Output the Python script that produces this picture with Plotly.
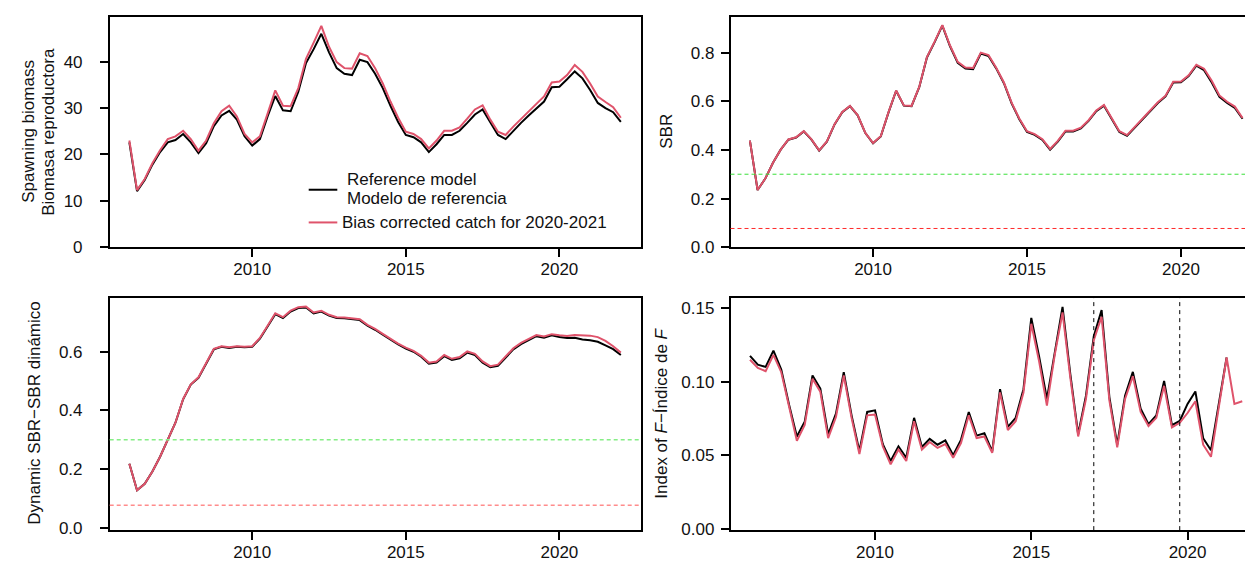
import numpy as np
import plotly.graph_objects as go

# ------------------------- Datos (trimestrales) ---------------------------------
anios = np.arange(2006.0, 2022.01, 0.25)          # 2006.00 ... 2022.00 (65)
anios_f = anios[:-1]                               # 2006.00 ... 2021.75 (64)

# Biomasa reproductora
bio_ref = [22.6, 12.1, 14.5, 17.8, 20.5, 22.6, 23.1, 24.4, 22.6, 20.3,
           22.4, 26.1, 28.4, 29.4, 27.5, 23.9, 21.9, 23.3, 28.2, 32.6,
           29.5, 29.3, 33.5, 39.7, 42.7, 46.0, 42.0, 38.6, 37.4, 37.1,
           40.4, 39.9, 37.4, 34.3, 30.5, 27.0, 24.2, 23.7, 22.6, 20.5,
           22.2, 24.2, 24.2, 25.1, 26.8, 28.6, 29.7, 26.8, 24.2, 23.3,
           25.1, 26.8, 28.4, 30.0, 31.4, 34.5, 34.6, 36.2, 37.9, 36.4,
           33.9, 31.1, 30.0, 29.1, 27.0]
bio_bias = [23.0, 12.3, 14.7, 18.1, 20.9, 23.3, 23.9, 25.1, 23.3, 20.8,
            23.0, 26.7, 29.3, 30.5, 28.2, 24.4, 22.6, 23.9, 28.8, 33.8,
            30.5, 30.4, 34.3, 40.6, 44.1, 47.7, 43.2, 39.9, 38.6, 38.5,
            41.8, 41.2, 38.6, 35.3, 31.4, 27.9, 24.9, 24.4, 23.3, 21.3,
            23.0, 25.1, 25.1, 25.8, 27.7, 29.7, 30.6, 27.5, 24.9, 24.2,
            26.0, 27.7, 29.3, 30.9, 32.5, 35.5, 35.7, 37.1, 39.3, 37.8,
            35.3, 32.5, 31.3, 30.2, 27.9]

# SBR
sbr_ref = [0.438, 0.235, 0.282, 0.347, 0.401, 0.442, 0.451, 0.476, 0.442, 0.397,
           0.434, 0.505, 0.555, 0.580, 0.542, 0.469, 0.427, 0.455, 0.553, 0.643,
           0.582, 0.580, 0.658, 0.780, 0.843, 0.911, 0.826, 0.758, 0.735, 0.732,
           0.796, 0.786, 0.735, 0.674, 0.591, 0.526, 0.474, 0.462, 0.441, 0.401,
           0.434, 0.476, 0.476, 0.488, 0.519, 0.559, 0.582, 0.528, 0.474, 0.458,
           0.492, 0.528, 0.562, 0.593, 0.620, 0.677, 0.678, 0.704, 0.746, 0.728,
           0.677, 0.618, 0.593, 0.573, 0.528]
sbr_bias = [0.438, 0.235, 0.282, 0.347, 0.401, 0.443, 0.452, 0.477, 0.443, 0.398,
            0.435, 0.506, 0.556, 0.581, 0.543, 0.470, 0.428, 0.456, 0.554, 0.644,
            0.583, 0.581, 0.659, 0.782, 0.845, 0.913, 0.829, 0.762, 0.739, 0.737,
            0.800, 0.790, 0.738, 0.677, 0.594, 0.529, 0.477, 0.465, 0.444, 0.404,
            0.437, 0.479, 0.479, 0.491, 0.522, 0.562, 0.585, 0.531, 0.477, 0.461,
            0.495, 0.531, 0.565, 0.596, 0.623, 0.680, 0.681, 0.707, 0.750, 0.734,
            0.684, 0.624, 0.598, 0.578, 0.531]

# SBR dinámico
dsbr_ref = [0.218, 0.128, 0.150, 0.192, 0.242, 0.298, 0.358, 0.438, 0.488, 0.511,
            0.561, 0.608, 0.617, 0.613, 0.617, 0.615, 0.617, 0.645, 0.686, 0.728,
            0.715, 0.737, 0.749, 0.751, 0.731, 0.737, 0.723, 0.715, 0.714, 0.711,
            0.708, 0.689, 0.675, 0.658, 0.641, 0.625, 0.611, 0.600, 0.583, 0.559,
            0.563, 0.585, 0.572, 0.578, 0.597, 0.589, 0.563, 0.547, 0.552, 0.581,
            0.608, 0.626, 0.639, 0.653, 0.648, 0.656, 0.650, 0.647, 0.648, 0.642,
            0.639, 0.634, 0.622, 0.609, 0.589]
dsbr_bias = [0.218, 0.128, 0.150, 0.192, 0.242, 0.298, 0.358, 0.439, 0.489, 0.513,
             0.563, 0.610, 0.619, 0.615, 0.619, 0.617, 0.619, 0.647, 0.689, 0.731,
             0.718, 0.740, 0.752, 0.754, 0.734, 0.740, 0.726, 0.718, 0.717, 0.714,
             0.711, 0.692, 0.678, 0.661, 0.644, 0.628, 0.614, 0.603, 0.586, 0.563,
             0.567, 0.589, 0.576, 0.582, 0.601, 0.593, 0.567, 0.551, 0.556, 0.585,
             0.612, 0.630, 0.643, 0.657, 0.652, 0.660, 0.656, 0.654, 0.657, 0.656,
             0.655, 0.650, 0.637, 0.619, 0.597]

# Indice de F
f_ref = [0.1177, 0.1117, 0.1102, 0.1213, 0.1084, 0.0844, 0.0628, 0.0728, 0.1044, 0.0955,
         0.0643, 0.0783, 0.1066, 0.0772, 0.0527, 0.0795, 0.0806, 0.0576, 0.0461, 0.0561,
         0.0483, 0.0755, 0.0556, 0.0612, 0.0572, 0.0601, 0.0501, 0.0605, 0.0795, 0.0634,
         0.0650, 0.0527, 0.0950, 0.0694, 0.0755, 0.0950, 0.1436, 0.1173, 0.0884, 0.1206,
         0.1511, 0.1051, 0.0643, 0.0906, 0.1311, 0.1489, 0.0895, 0.0572, 0.0906, 0.1068,
         0.0817, 0.0712, 0.0772, 0.1006, 0.0705, 0.0734, 0.0850, 0.0935, 0.0616, 0.0534,
         0.0860, 0.1166]
f_bias = [0.1151, 0.1095, 0.1073, 0.1184, 0.1066, 0.0828, 0.0599, 0.0706, 0.1022, 0.0933,
          0.0617, 0.0761, 0.1044, 0.0755, 0.0509, 0.0772, 0.0777, 0.0561, 0.0438, 0.0539,
          0.0461, 0.0732, 0.0539, 0.0590, 0.0550, 0.0576, 0.0483, 0.0583, 0.0772, 0.0617,
          0.0628, 0.0516, 0.0928, 0.0672, 0.0732, 0.0928, 0.1396, 0.1140, 0.0839, 0.1184,
          0.1473, 0.1028, 0.0628, 0.0884, 0.1284, 0.1444, 0.0872, 0.0554, 0.0884, 0.1039,
          0.0795, 0.0699, 0.0755, 0.0973, 0.0690, 0.0721, 0.0788, 0.0868, 0.0572, 0.0490,
          0.0830, 0.1166, 0.0850, 0.0868]

# Puntos de referencia y fechas marcadas
sbr_objetivo = 0.3
sbr_limite = 0.077
fechas_f = [2017.0, 2019.75]

# ------------------------- Estilo ---------------------------------------------------
NEGRO = "#000000"
ROSA = "#DF536B"
FUENTE = "Liberation Sans, Arial, sans-serif"
W, H = 1253, 566

def px_x(p):
    return p / W

def px_y(p):
    return 1 - p / H

dom_izq = [px_x(101.7), px_x(632.5)]
dom_der = [px_x(722.5), 1.0]
dom_sup = [px_y(243.5), px_y(9)]
dom_inf = [px_y(531.5), px_y(295)]

fig = go.Figure()

paneles = [
    (bio_ref, bio_bias, anios, anios, "x", "y"),
    (sbr_ref, sbr_bias, anios, anios, "x2", "y2"),
    (dsbr_ref, dsbr_bias, anios, anios, "x3", "y3"),
    (f_ref, f_bias, anios_f[:len(f_ref)], anios_f, "x4", "y4"),
]
for ref, bias, xr, xb, xa, ya in paneles:
    fig.add_trace(go.Scatter(x=xr, y=ref, mode="lines", xaxis=xa, yaxis=ya,
                             line=dict(color=NEGRO, width=2), showlegend=False))
    fig.add_trace(go.Scatter(x=xb, y=bias, mode="lines", xaxis=xa, yaxis=ya,
                             line=dict(color=ROSA, width=2), showlegend=False))

eje_x = dict(tickvals=[2010, 2015, 2020], showline=True, linecolor=NEGRO, linewidth=1.5,
             ticks="outside", ticklen=8, tickwidth=1.5, tickcolor=NEGRO,
             showgrid=False, zeroline=False, mirror=True, ticklabelstandoff=-2,
             tickfont=dict(size=17, color="#111", family=FUENTE))
eje_y = dict(showline=True, linecolor=NEGRO, linewidth=1.5,
             ticks="outside", ticklen=8, tickwidth=1.5, tickcolor=NEGRO,
             showgrid=False, zeroline=False,
             tickfont=dict(size=17, color="#111", family=FUENTE))

fig.update_layout(
    width=W, height=H, margin=dict(l=0, r=0, t=0, b=0),
    paper_bgcolor="white", plot_bgcolor="white", showlegend=False,
    font=dict(family=FUENTE, size=17, color="#111"),
    xaxis=dict(eje_x, domain=dom_izq, anchor="y", range=[2005.36, 2022.64]),
    yaxis=dict(eje_y, domain=dom_sup, anchor="x", range=[0, 49.66], mirror=True,
               tickvals=[0, 10, 20, 30, 40], ticklabelstandoff=14),
    xaxis2=dict(eje_x, domain=dom_der, anchor="y2", range=[2005.37, 2022.60]),
    yaxis2=dict(eje_y, domain=dom_sup, anchor="x2", range=[0, 0.947],
                tickvals=[0, 0.2, 0.4, 0.6, 0.8], tickformat=".1f", ticklabelstandoff=3),
    xaxis3=dict(eje_x, domain=dom_izq, anchor="y3", range=[2005.36, 2022.64]),
    yaxis3=dict(eje_y, domain=dom_inf, anchor="x3", range=[-0.008, 0.784], mirror=True,
                tickvals=[0, 0.2, 0.4, 0.6], tickformat=".1f", ticklabelstandoff=14),
    xaxis4=dict(eje_x, domain=dom_der, anchor="y4", range=[2005.376, 2022.35]),
    yaxis4=dict(eje_y, domain=dom_inf, anchor="x4", range=[-0.001, 0.1573],
                tickvals=[0, 0.05, 0.10, 0.15], tickformat=".2f", ticklabelstandoff=3),
)

# Líneas de referencia SBR
for ya, xd, verde, rojo, ancho in [("y2", "x2 domain", "#3ADF3A", "#FF2A2A", 1),
                                   ("y3", "x3 domain", "#86EE86", "#FF8C8C", 1.6)]:
    for val, col in [(sbr_objetivo, verde), (sbr_limite, rojo)]:
        fig.add_shape(type="line", xref=xd, yref=ya, x0=0, x1=1, y0=val, y1=val,
                      line=dict(color=col, width=ancho, dash="4px,3px"))

# Fechas marcadas en el índice de F
for fx in fechas_f:
    fig.add_shape(type="line", xref="x4", yref="y4 domain", x0=fx, x1=fx, y0=0, y1=1,
                  line=dict(color=NEGRO, width=1, dash="4px,4px"))

# Títulos de ejes
def titulo(texto, xpx, ypx):
    fig.add_annotation(text=texto, x=px_x(xpx), y=px_y(ypx), xref="paper", yref="paper",
                       textangle=-90, showarrow=False, xanchor="center", yanchor="middle",
                       font=dict(size=17, color="#111", family=FUENTE))

titulo("Spawning biomass", 21, 126)
titulo("Biomasa reproductora", 41, 126)
titulo("SBR", 659, 126)
titulo("Dynamic SBR\u2212SBR dinámico", 27, 413)
titulo("Index of <i>F</i>\u2212Índice de <i>F</i>", 654, 413)

# Leyenda
for col, ypx in [(NEGRO, 185), (ROSA, 218.3)]:
    fig.add_shape(type="line", xref="paper", yref="paper", x0=px_x(300.7), x1=px_x(329.3),
                  y0=px_y(ypx), y1=px_y(ypx), line=dict(color=col, width=2))
for texto, xpx, ypx in [("Reference model", 336.7, 175),
                        ("Modelo de referencia", 336.7, 193.5),
                        ("Bias corrected catch for 2020-2021", 331.7, 218.3)]:
    fig.add_annotation(text=texto, x=px_x(xpx), y=px_y(ypx), xref="paper", yref="paper",
                       showarrow=False, xanchor="left", yanchor="middle",
                       font=dict(size=17, color="#111", family=FUENTE))

fig.write_html("out.html")
